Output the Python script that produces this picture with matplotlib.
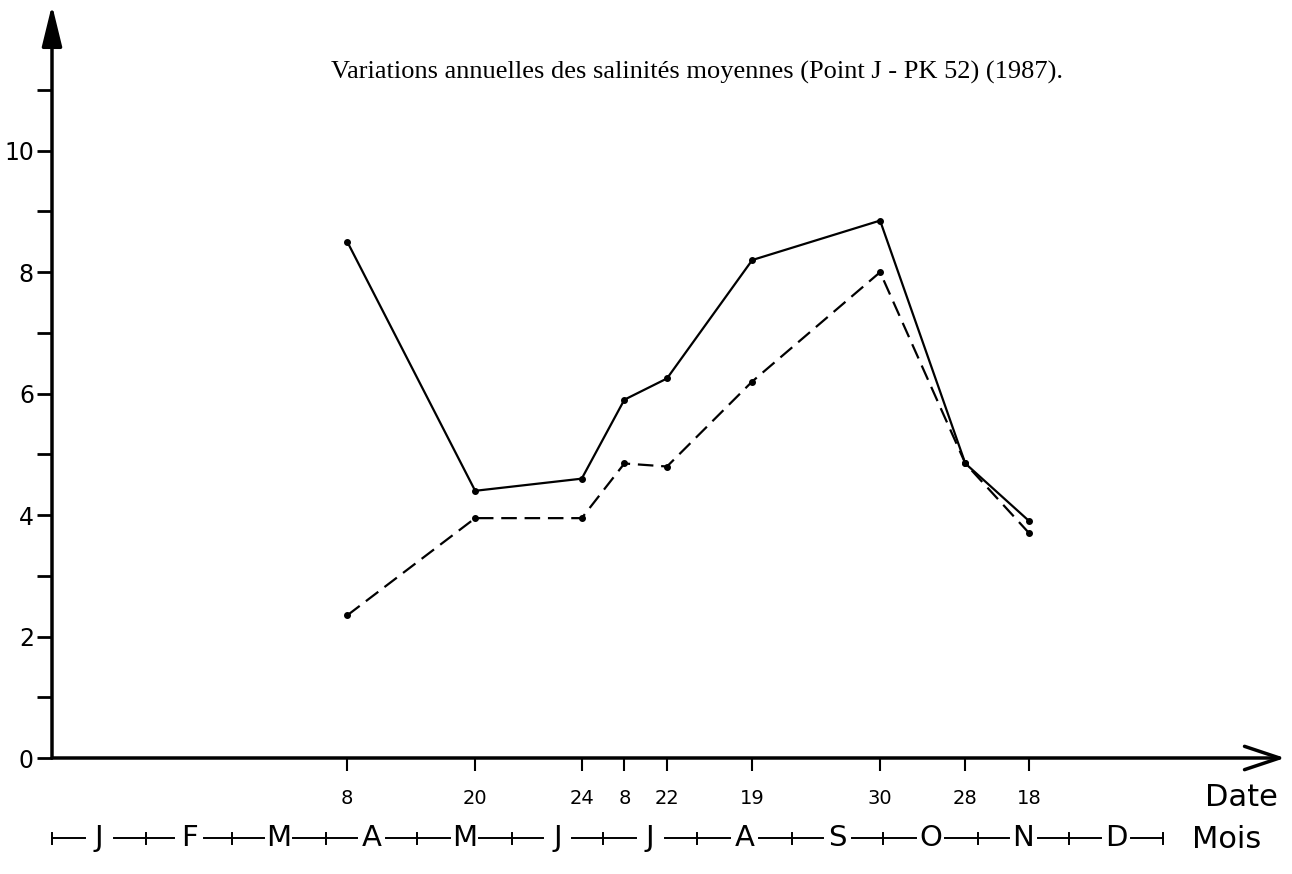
import matplotlib
matplotlib.use("Agg")
import matplotlib.pyplot as plt
import pandas as pd

# sampling dates (1987) and the two salinity series
dates = ["1987-04-08", "1987-05-20", "1987-06-24", "1987-07-08", "1987-07-22",
         "1987-08-19", "1987-09-30", "1987-10-28", "1987-11-18"]
date_labels = ["8", "20", "24", "8", "22", "19", "30", "28", "18"]
salinity_solid = [8.5, 4.4, 4.6, 5.9, 6.25, 8.2, 8.85, 4.85, 3.9]
salinity_dashed = [2.35, 3.95, 3.95, 4.85, 4.8, 6.2, 8.0, 4.85, 3.7]

months = ["J", "F", "M", "A", "M", "J", "J", "A", "S", "O", "N", "D"]
month_days = [31, 28, 31, 30, 31, 30, 31, 31, 30, 31, 30, 31]

title = "Variations annuelles des salinités moyennes (Point J - PK 52) (1987)."

# days since 1 January
x_days = list(pd.to_datetime(dates).dayofyear - 1)

W, H = 1292, 874
fig = plt.figure(figsize=(W / 100, H / 100), dpi=100)
ax = fig.add_axes([52 / W, 116 / H, 1233 / W, 753 / H])
ax.set_xlim(0, 405)
ax.set_ylim(0, 12.4)

for s in ax.spines.values():
    s.set_visible(False)

# axes drawn as arrows
ax.annotate("", xy=(0, 1), xytext=(0, 0), xycoords="axes fraction",
            arrowprops=dict(arrowstyle="-|>,head_length=0.9,head_width=0.22",
                            lw=2.5, color="black", shrinkA=0, shrinkB=0,
                            mutation_scale=28))
ax.annotate("", xy=(1, 0), xytext=(0, 0), xycoords="axes fraction",
            arrowprops=dict(arrowstyle="->,head_length=0.9,head_width=0.3",
                            lw=2.5, color="black", shrinkA=0, shrinkB=0,
                            mutation_scale=28))

# data
ax.plot(x_days, salinity_solid, "-", color="black", lw=1.6,
        marker="o", ms=4, clip_on=False)
ax.plot(x_days, salinity_dashed, color="black", lw=1.6, ls=(0, (7, 3.5)),
        marker="o", ms=4, clip_on=False)

# y ticks
ax.set_yticks(range(0, 11, 2))
ax.set_yticks(range(1, 12, 2), minor=True)
ax.tick_params(axis="y", which="both", direction="out", length=11, width=2,
               labelsize=17, pad=2)

# x ticks at sampling dates
ax.set_xticks(x_days)
ax.set_xticklabels(date_labels)
ax.tick_params(axis="x", direction="out", length=9, width=1.5,
               labelsize=14, pad=13)

ax.text(1278 / W, 1 - 797 / H, "Date", transform=fig.transFigure,
        ha="right", va="center", fontsize=22)

# month scale under the axis
row_y = -1.32
gap = 4.8
bounds = [0]
for d in month_days:
    bounds.append(bounds[-1] + d)
centers = [(bounds[i] + bounds[i + 1]) / 2 for i in range(12)]
for i, m in enumerate(months):
    ax.text(centers[i], row_y, m, ha="center", va="center", fontsize=21,
            clip_on=False)
    left = bounds[i] if i == 0 else centers[i - 1] + gap
    ax.plot([left, centers[i] - gap], [row_y, row_y], color="black", lw=1.4,
            clip_on=False)
ax.plot([centers[-1] + gap, bounds[-1]], [row_y, row_y], color="black", lw=1.4,
        clip_on=False)
for b in bounds:
    ax.plot([b, b], [row_y - 0.09, row_y + 0.09], color="black", lw=1.4,
            clip_on=False)
ax.text(1192 / W, 1 - 840 / H, "Mois", transform=fig.transFigure,
        ha="left", va="center", fontsize=22)

fig.text(697 / W, 1 - 72 / H, title, ha="center", va="center",
         family="Liberation Serif", fontsize=19)

fig.savefig("out.png", dpi=100)
